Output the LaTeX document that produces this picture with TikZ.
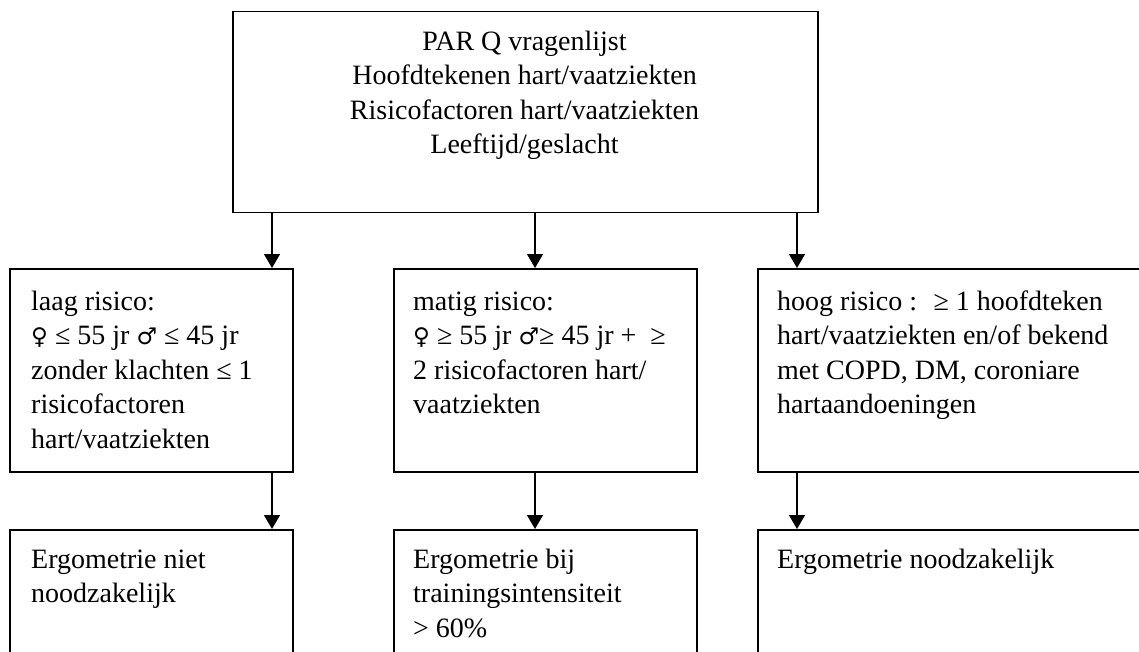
\documentclass[tikz,border=0pt]{standalone}
\usepackage{fontspec}
\setmainfont{Liberation Serif}
\newfontfamily\gsymfont{DejaVu Sans}
\usetikzlibrary{arrows.meta}
% fixed height for the first line of every text block
\newcommand\hdstrut{\rule{0pt}{22pt}}
% gender signs, set a little larger than the serif face provides
\newcommand\fem{{\gsymfont\fontsize{23}{34.5}\selectfont ♀}}
\newcommand\mal{{\gsymfont\fontsize{23}{34.5}\selectfont ♂}}
\begin{document}
\begin{tikzpicture}[x=1pt,y=-1pt,
  box/.style={draw, line width=1.5pt, rectangle, inner sep=0pt, anchor=north west},
  txt/.style={inner sep=0pt, align=left, anchor=north west, font=\fontsize{28}{34.5}\selectfont},
  ctxt/.style={inner sep=0pt, align=center, anchor=north, font=\fontsize{28}{34.5}\selectfont},
  arr/.style={line width=1.5pt, -{Triangle[width=16pt,length=14pt]}}]
\useasboundingbox (0,0) rectangle (1139,652);
\clip (0,0) rectangle (1139,652);

% arrow columns
\coordinate (cA) at (272,0);
\coordinate (cB) at (535,0);
\coordinate (cC) at (797,0);

% top box
\node[box, minimum width=585pt, minimum height=201pt] (top) at (232,11) {};
\node[ctxt] (toptext) at (524.5,28) {\hdstrut PAR Q vragenlijst\\
  Hoofdtekenen hart/vaatziekten\\
  Risicofactoren hart/vaatziekten\\
  Leeftijd/geslacht};

% risk boxes
\node[box, minimum width=283pt, minimum height=203pt] (midL) at (9,268) {};
\node[box, minimum width=303pt, minimum height=203pt] (midM) at (393,268) {};
\node[box, minimum width=500pt, minimum height=203pt] (midR) at (757,268) {};

\node[txt] (midLtext) at (31,288) {\hdstrut laag risico:\\
  \fem\ ≤ 55 jr \mal\ ≤ 45 jr\\
  zonder klachten ≤ 1\\
  risicofactoren\\
  hart/vaatziekten};
\node[txt] (midMtext) at (413,288) {\hdstrut matig risico:\\
  \fem\ ≥ 55 jr \mal≥ 45 jr + \ ≥\\
  2 risicofactoren hart/\\
  vaatziekten};
\node[txt] (midRtext) at (777,288) {\hdstrut hoog risico : \ ≥ 1 hoofdteken\\
  hart/vaatziekten en/of bekend\\
  met COPD, DM, coroniare\\
  hartaandoeningen};

% ergometry boxes
\node[box, minimum width=283pt, minimum height=200pt] (botL) at (9,529) {};
\node[box, minimum width=303pt, minimum height=200pt] (botM) at (393,529) {};
\node[box, minimum width=500pt, minimum height=200pt] (botR) at (757,529) {};

\node[txt] (botLtext) at (31,546) {\hdstrut Ergometrie niet\\
  noodzakelijk};
\node[txt] (botMtext) at (413,546) {\hdstrut Ergometrie bij\\
  trainingsintensiteit\\
  > 60\%};
\node[txt] (botRtext) at (777,546) {\hdstrut Ergometrie noodzakelijk};

% connectors
\draw[arr] (top.south -| cA) -- (midL.north -| cA);
\draw[arr] (top.south -| cB) -- (midM.north -| cB);
\draw[arr] (top.south -| cC) -- (midR.north -| cC);
\draw[arr] (midL.south -| cA) -- (botL.north -| cA);
\draw[arr] (midM.south -| cB) -- (botM.north -| cB);
\draw[arr] (midR.south -| cC) -- (botR.north -| cC);
\end{tikzpicture}
\end{document}
